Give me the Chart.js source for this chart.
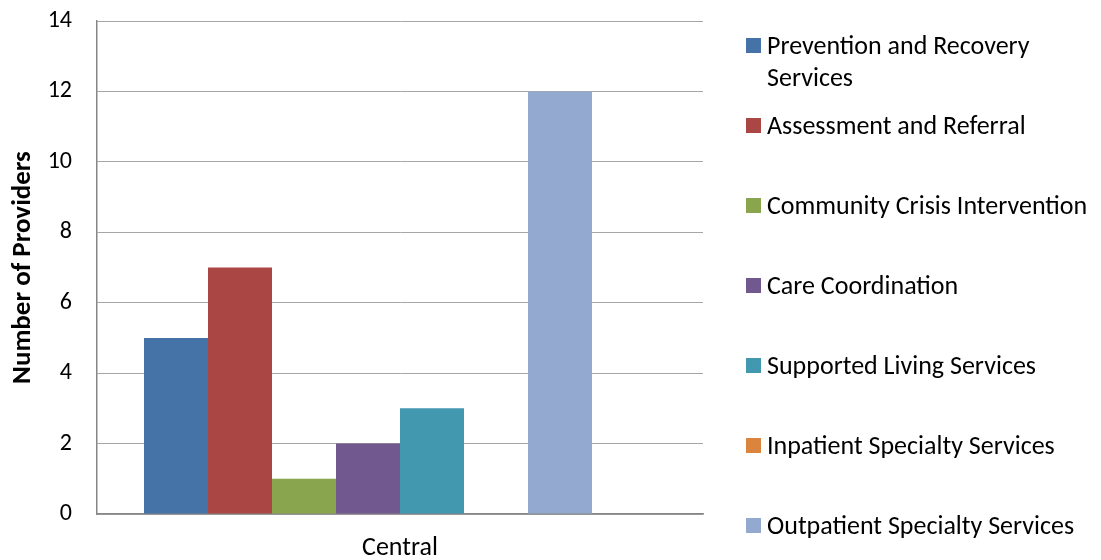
<!DOCTYPE html>
<html>
<head>
<meta charset="utf-8">
<script src="https://cdn.jsdelivr.net/npm/chart.js@4/dist/chart.umd.min.js"></script>
<style>
  html, body { margin: 0; padding: 0; background: #fff; }
  #wrap { position: relative; width: 1101px; height: 560px; }
  #c { position: absolute; left: 0; top: 0; }
  .lg { position: absolute; left: 746px; font-family: Carlito, Calibri, Lato, sans-serif; font-size: 26px; line-height: 32px; color: #000; }
  .lg .sw { position: absolute; left: 0; top: 9px; width: 15px; height: 15px; }
  .lg .tx { margin-left: 21px; width: 334px; }
</style>
</head>
<body>
<div id="wrap">
  <canvas id="c" width="1101" height="560"></canvas>
</div>
<script>
const categories = ['Central'];
const seriesNames = [
  'Prevention and Recovery Services',
  'Assessment and Referral',
  'Community Crisis Intervention',
  'Care Coordination',
  'Supported Living Services',
  'Inpatient Specialty Services',
  'Outpatient Specialty Services'
];
const seriesValues = [5, 7, 1, 2, 3, 0, 12];
const seriesColors = ['#4572A7', '#AA4643', '#89A54E', '#71588F', '#4198AF', '#DB843D', '#93A9CF'];
const yTicks = [0, 2, 4, 6, 8, 10, 12, 14];
const legendRows = [45, 125, 205, 285, 365, 445, 525];

const FONT = 'Carlito, Calibri, Lato, sans-serif';

const datasets = seriesNames.map((name, i) => ({
  label: name,
  data: [seriesValues[i]],
  backgroundColor: seriesColors[i],
  borderWidth: 0
}));
// empty trailing slot in the group (no legend entry)
datasets.push({ label: '', data: [null], backgroundColor: 'rgba(0,0,0,0)' });

new Chart(document.getElementById('c'), {
  type: 'bar',
  data: { labels: categories, datasets },
  options: {
    responsive: false,
    animation: false,
    layout: { padding: { top: 21, right: 398, bottom: 0, left: 0 } },
    plugins: { legend: { display: false }, tooltip: { enabled: false } },
    datasets: { bar: { categoryPercentage: 512 / 606, barPercentage: 1 } },
    scales: {
      x: {
        grid: { display: false, drawTicks: false },
        border: { color: '#868686', width: 1.5 },
        ticks: { color: '#000', font: { family: FONT, size: 26 }, padding: 19 },
        afterFit: (s) => { s.height = 46; }
      },
      y: {
        min: 0, max: 14,
        afterBuildTicks: (s) => { s.ticks = yTicks.map(v => ({ value: v })); },
        // invisible tick marks keep the labels clear of the axis line
        grid: { color: '#a6a6a6', lineWidth: 1, drawTicks: true, tickLength: 25, tickColor: 'rgba(0,0,0,0)' },
        border: { color: '#868686', width: 1.5 },
        ticks: { color: '#000', font: { family: FONT, size: 24 }, padding: 0 },
        title: {
          display: true, text: 'Number of Providers', color: '#000',
          font: { family: FONT, size: 27, weight: 'bold' }, padding: { top: 7, bottom: 0 }
        },
        afterFit: (s) => { s.width = 97; }
      }
    }
  }
});

// legend on the right
const wrap = document.getElementById('wrap');
seriesNames.forEach((name, i) => {
  const d = document.createElement('div');
  d.className = 'lg';
  d.style.top = (legendRows[i] - 16) + 'px';
  d.innerHTML = '<span class="sw" style="background:' + seriesColors[i] + '"></span><div class="tx"></div>';
  d.querySelector('.tx').textContent = name;
  wrap.appendChild(d);
});
</script>
</body>
</html>
